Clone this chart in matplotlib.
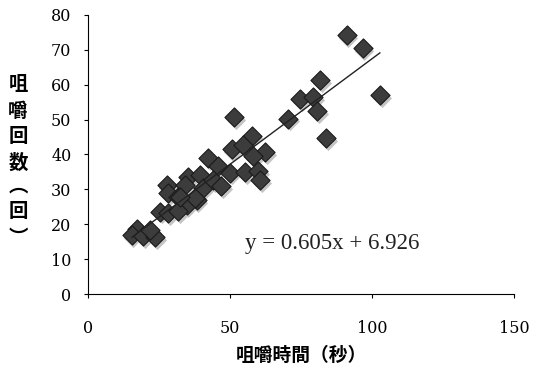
import numpy as np
import matplotlib
matplotlib.use("Agg")
import matplotlib.pyplot as plt

# chewing time (s) vs chewing count
chew_time = [91.1, 96.7, 102.8, 81.7, 74.6, 79.3, 80.7, 70.5, 83.8, 51.4,
             57.6, 50.6, 54.7, 62.3, 58.2, 42.4, 45.9, 50.0, 55.3, 60.0,
             60.6, 35.3, 39.4, 27.7, 28.3, 34.2, 31.8, 38.3, 40.6, 44.1,
             34.7, 25.4, 28.3, 31.8, 17.1, 15.4, 19.5, 23.6, 21.8, 37.7,
             32.4, 47.0]
chew_count = [74.2, 70.4, 57.0, 61.3, 55.8, 56.4, 52.4, 50.3, 44.8, 50.8,
              45.4, 41.6, 42.6, 40.6, 39.6, 39.0, 36.6, 34.8, 34.9, 35.2,
              32.7, 33.6, 34.1, 31.2, 28.9, 31.2, 27.9, 26.9, 30.5, 32.7,
              25.5, 23.6, 23.1, 23.8, 18.6, 16.8, 16.6, 16.3, 18.3, 27.4,
              27.9, 31.0]
slope, intercept = 0.605, 6.926

xticks = [0, 50, 100, 150]
yticks = [0, 10, 20, 30, 40, 50, 60, 70, 80]
ylabel = '咀嚼回数︵回︶'   # vertical-form brackets

jp = ['Noto Sans CJK JP', 'DejaVu Sans']

fig = plt.figure(figsize=(5.35, 3.65), dpi=100)
ax = fig.add_axes([0.1645, 0.1945, 0.796, 0.7645])

x = np.array(chew_time)
y = np.array(chew_count)

# soft shadow then marker
ax.scatter(x + 0.6, y - 0.8, marker='D', s=95, color='#c4c4c4', linewidths=0, zorder=2)
ax.scatter(x, y, marker='D', s=95, facecolor='#3c3c3c', edgecolor='#1a1a1a',
           linewidths=0.8, zorder=3)

xl = np.array([x.min(), x.max()])
ax.plot(xl, slope * xl + intercept, color='#222222', lw=1.0, zorder=4)

ax.text(55.3, 14.6, 'y = 0.605x + 6.926', family='Liberation Serif', fontsize=16.5,
        va='center', ha='left', color='#222222')

ax.set_xlim(0, 150)
ax.set_ylim(0, 80)
ax.set_xticks(xticks)
ax.set_yticks(yticks)
for s in ['top', 'right']:
    ax.spines[s].set_visible(False)
ax.tick_params(direction='out', length=3, labelsize=11.5)
for lab in ax.get_xticklabels() + ax.get_yticklabels():
    lab.set_family('DejaVu Serif')
ax.tick_params(axis='x', pad=16)
ax.tick_params(axis='y', pad=9)

ax.set_xlabel('咀嚼時間（秒）', family=jp, fontsize=13.5, fontweight='bold', labelpad=6)

# vertical y label, one character per row
row_y = [85, 111, 137, 163, 186, 212, 238]
for ch, py in zip(ylabel, row_y):
    fig.text(18 / 535, 1 - py / 365, ch, family=jp, fontsize=14, fontweight='bold',
             ha='center', va='center')

fig.savefig('out.png', dpi=100)
